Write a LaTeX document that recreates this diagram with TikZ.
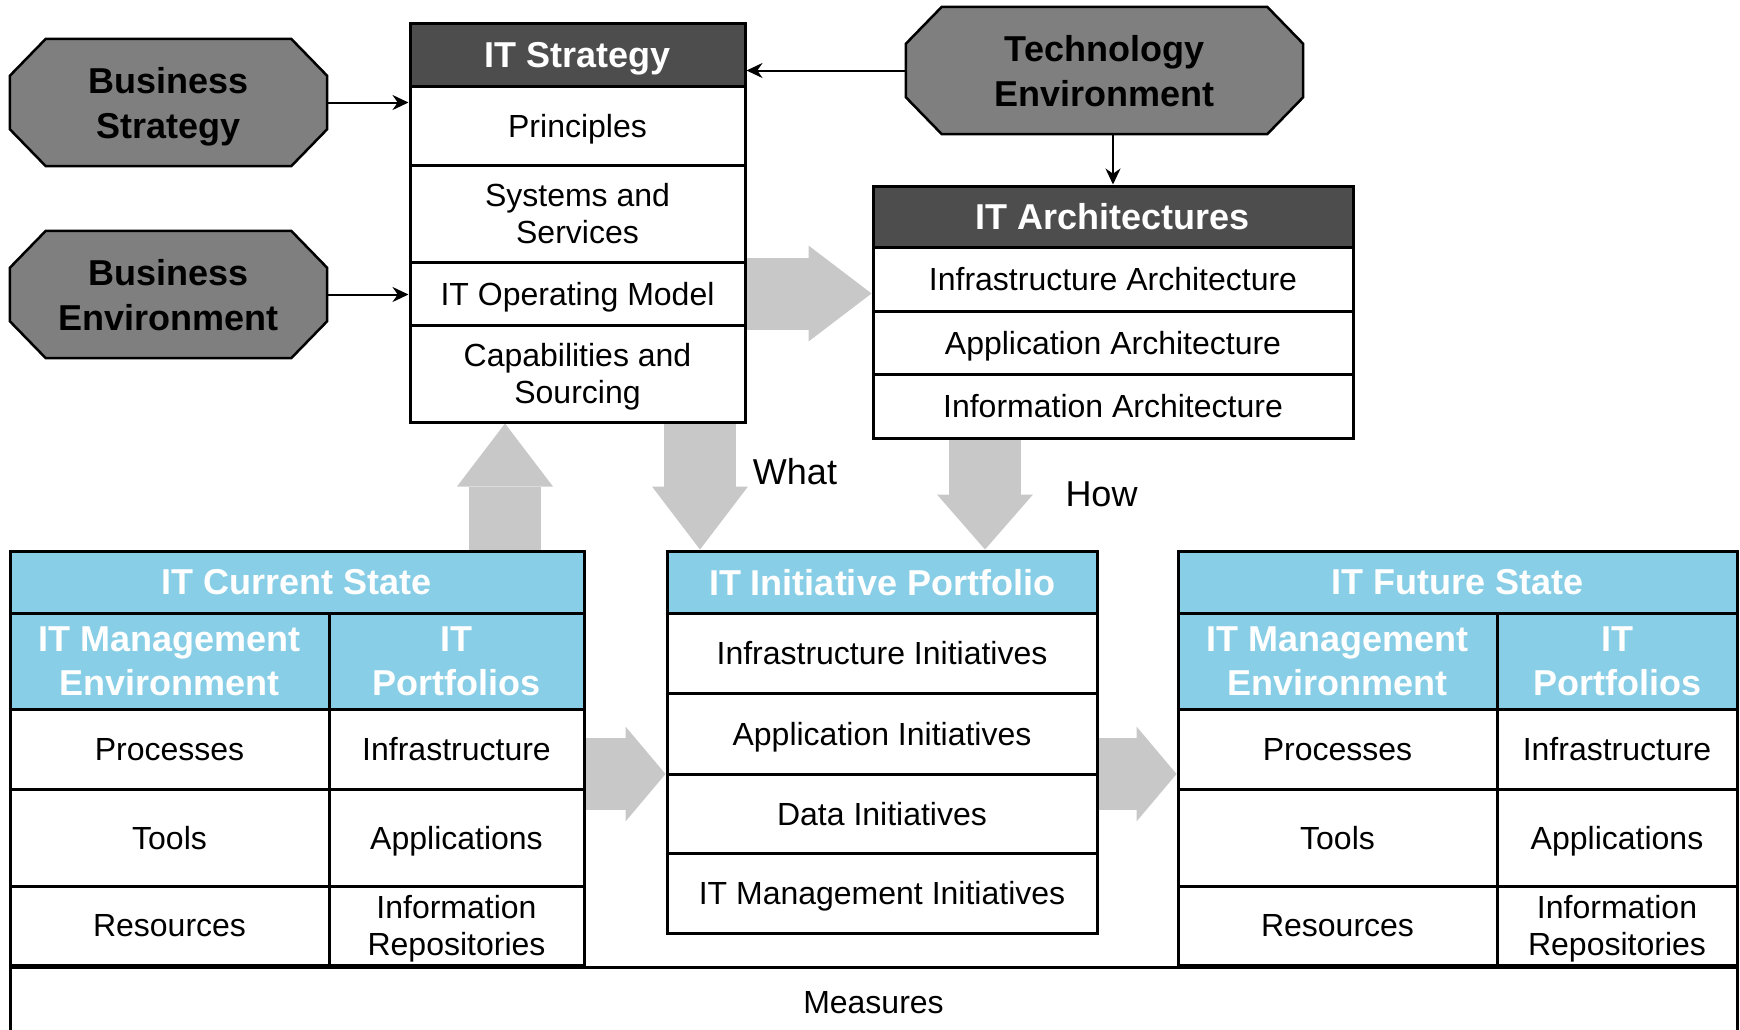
\documentclass[tikz,border=0pt]{standalone}
\usepackage{fontspec}
\setmainfont{Liberation Sans}
\usetikzlibrary{arrows.meta, backgrounds}

\definecolor{hdrgray}{RGB}{77,77,77}
\definecolor{octgray}{RGB}{127,127,127}
\definecolor{skyhdr}{RGB}{135,206,230}
\definecolor{flowgray}{RGB}{200,200,200}

\newcommand{\octagonal}[1]{%
  \draw[octline] ([shift={(36,0)}]#1.north west) -- ([shift={(-36,0)}]#1.north east)
    -- ([shift={(0,37)}]#1.north east) -- ([shift={(0,-37)}]#1.south east)
    -- ([shift={(-36,0)}]#1.south east) -- ([shift={(36,0)}]#1.south west)
    -- ([shift={(0,-37)}]#1.south west) -- ([shift={(0,37)}]#1.north west) -- cycle;}

\begin{document}
\begin{tikzpicture}
        [x=1pt, y=-1pt,
        cell/.style={draw=black, line width=3pt, fill=white, inner sep=0pt, align=center,
          text depth=0pt, font=\fontsize{32}{37}\selectfont},
        darkhead/.style={cell, fill=hdrgray, text=white, font=\bfseries\fontsize{36}{44}\selectfont},
        bluehead/.style={cell, fill=skyhdr, text=white, font=\bfseries\fontsize{36}{44}\selectfont},
        octo/.style={inner sep=0pt, align=center, minimum height=127pt, text depth=0pt,
          font=\bfseries\fontsize{36}{45}\selectfont},
        octline/.style={draw=black, line width=2.5pt, fill=octgray},
        stratcol/.style={minimum width=335pt},
        archcol/.style={minimum width=480pt},
        initcol/.style={minimum width=430pt},
        thinarr/.style={-{Stealth[length=16pt,width=15pt]}, line width=2pt},
        flow/.style={draw=flowgray, line width=72pt,
          -{Triangle[length=63pt,width=96pt,line width=0pt]}},
        flowshort/.style={draw=flowgray, line width=72pt,
          -{Triangle[length=40pt,width=95pt,line width=0pt]}},
        plain/.style={font=\fontsize{36}{42}\selectfont}]
        \useasboundingbox (0,0) rectangle (1740,1029);

        \node (bstrat) at (168.5,102.5) [octo, minimum width=317pt] {Business\\Strategy};
        \node (benv) at (168.5,294.5) [octo, minimum width=317pt] {Business\\Environment};
        \node (techenv) at (1104.5,70.5) [octo, minimum width=397pt] {Technology\\Environment};

        \node (strathead) at (577.5,54.5) [darkhead, stratcol, minimum height=63pt] {IT Strategy};
        \node (princ) at (577.5,125.5) [cell, stratcol, minimum height=79pt] {Principles};
        \node (syssvc) at (577.5,213.5) [cell, stratcol, minimum height=97pt] {Systems and\\Services};
        \node (opmodel) at (577.5,293.5) [cell, stratcol, minimum height=63pt] {IT Operating Model};
        \node (capab) at (577.5,373.5) [cell, stratcol, minimum height=97pt] {Capabilities and\\Sourcing};

        \node (archhead) at (1113,216.5) [darkhead, archcol, minimum height=61pt] {IT Architectures};
        \node (infarch) at (1113,279) [cell, archcol, minimum height=64pt] {Infrastructure Architecture};
        \node (apparch) at (1113,342.5) [cell, archcol, minimum height=63pt] {Application Architecture};
        \node (infoarch) at (1113,406) [cell, archcol, minimum height=64pt] {Information Architecture};

        \node (curhead) at (297,582) [bluehead, minimum width=574pt, minimum height=62pt] {IT Current State};
        \node (curmgmt) at (169.5,661) [bluehead, minimum width=319pt, minimum height=96pt] {IT Management\\Environment};
        \node (curport) at (456.5,661) [bluehead, minimum width=255pt, minimum height=96pt] {IT\\Portfolios};
        \node (curproc) at (169.5,749) [cell, minimum width=319pt, minimum height=80pt] {Processes};
        \node (curinfra) at (456.5,749) [cell, minimum width=255pt, minimum height=80pt] {Infrastructure};
        \node (curtools) at (169.5,837.5) [cell, minimum width=319pt, minimum height=97pt] {Tools};
        \node (curapps) at (456.5,837.5) [cell, minimum width=255pt, minimum height=97pt] {Applications};
        \node (curres) at (169.5,925.5) [cell, minimum width=319pt, minimum height=79pt] {Resources};
        \node (currepo) at (456.5,925.5) [cell, minimum width=255pt, minimum height=79pt] {Information\\Repositories};

        \node (inithead) at (882,582) [bluehead, initcol, minimum height=62pt] {IT Initiative Portfolio};
        \node (infinit) at (882,653) [cell, initcol, minimum height=80pt] {Infrastructure Initiatives};
        \node (appinit) at (882,733.5) [cell, initcol, minimum height=81pt] {Application Initiatives};
        \node (datainit) at (882,813.5) [cell, initcol, minimum height=79pt] {Data Initiatives};
        \node (mgmtinit) at (882,893) [cell, initcol, minimum height=80pt] {IT Management Initiatives};

        \node (futhead) at (1457.5,582) [bluehead, minimum width=559pt, minimum height=62pt] {IT Future State};
        \node (futmgmt) at (1337.5,661) [bluehead, minimum width=319pt, minimum height=96pt] {IT Management\\Environment};
        \node (futport) at (1617,661) [bluehead, minimum width=240pt, minimum height=96pt] {IT\\Portfolios};
        \node (futproc) at (1337.5,749) [cell, minimum width=319pt, minimum height=80pt] {Processes};
        \node (futinfra) at (1617,749) [cell, minimum width=240pt, minimum height=80pt] {Infrastructure};
        \node (futtools) at (1337.5,837.5) [cell, minimum width=319pt, minimum height=97pt] {Tools};
        \node (futapps) at (1617,837.5) [cell, minimum width=240pt, minimum height=97pt] {Applications};
        \node (futres) at (1337.5,925.5) [cell, minimum width=319pt, minimum height=79pt] {Resources};
        \node (futrepo) at (1617,925.5) [cell, minimum width=240pt, minimum height=79pt] {Information\\Repositories};

        \node (measures) at (873.5,1002) [cell, minimum width=1727pt, minimum height=70pt] {Measures};

        \node (what) at (795,471.5) [plain] {What};
        \node (how) at (1101.5,494) [plain] {How};

        \coordinate (upfoot) at (505,551);
        \coordinate (whattop) at (700,422);
        \coordinate (howtop) at (985,438);
        \coordinate (curout) at (584,774);
        \coordinate (initout) at (1097,774);

        \begin{pgfonlayer}{background}
          \octagonal{bstrat}
          \octagonal{benv}
          \octagonal{techenv}
          \draw[flow] (opmodel.east) -- (opmodel.east -| archhead.west);
          \draw[flow] (upfoot) -- (upfoot |- capab.south);
          \draw[flow] (whattop) -- (whattop |- inithead.north);
          \draw[flow, -{Triangle[length=55pt,width=96pt,line width=0pt]}] (howtop) -- (howtop |- inithead.north);
          \draw[flowshort] (curout) -- (curout -| inithead.west);
          \draw[flowshort] (initout) -- (initout -| futhead.west);
        \end{pgfonlayer}

        \draw[thinarr] (bstrat.east) -- (bstrat.east -| princ.west);
        \draw[thinarr] (benv.east) -- (benv.east -| opmodel.west);
        \draw[thinarr] (techenv.west) -- (techenv.west -| strathead.east);
        \draw[thinarr] (archhead.north |- techenv.south) -- (archhead.north);
\end{tikzpicture}
\end{document}
